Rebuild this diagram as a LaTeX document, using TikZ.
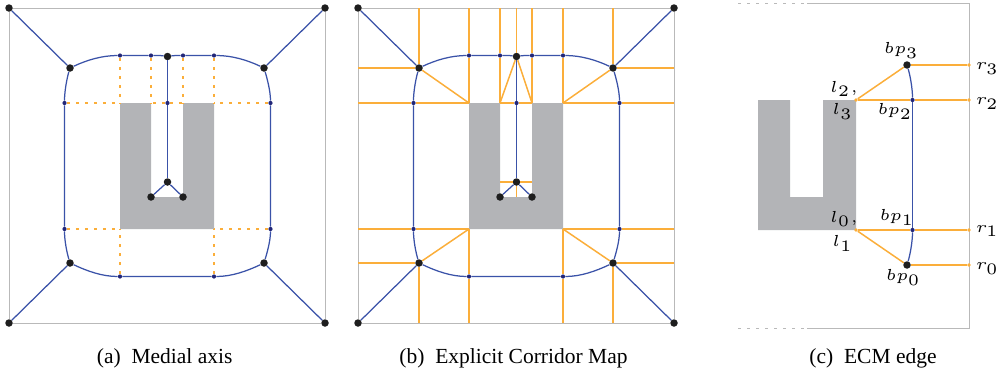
\documentclass[tikz,border=0pt]{standalone}
\usepackage[no-math]{fontspec}
\setmainfont{Liberation Serif}
\usetikzlibrary{positioning}
\definecolor{medialColor}{RGB}{58, 82, 168}
\definecolor{bendColor}{RGB}{34, 38, 120}
\definecolor{corridorColor}{RGB}{251, 174, 58}
\definecolor{wallColor}{RGB}{179, 180, 183}
\definecolor{frameColor}{RGB}{185, 185, 185}
\definecolor{dotColor}{RGB}{30, 30, 30}

% Mapa comum aos paineis (a) e (b)
\newcommand{\medialmap}{
    \coordinate (gtl) at (120,103);
    \coordinate (gtr) at (214,103);
    \coordinate (gbl) at (120,229);
    \coordinate (gbr) at (214,229);
    \coordinate (gnl) at (151,103);
    \coordinate (gnr) at (183,103);
    \coordinate (gdl) at (151,197);
    \coordinate (gdr) at (183,197);
    \fill [wall] (gtl) -- (gnl) -- (gdl) -- (gdr) -- (gnr) -- (gtr) -- (gbr) -- (gbl) -- cycle;

    % Vertices
    \node (tl) [junction] at (9,8) {};
    \node (tr) [junction] at (325,8) {};
    \node (bl) [junction] at (9,323) {};
    \node (br) [junction] at (325,323) {};
    \node (jtl) [junction] at (70,68) {};
    \node (jtr) [junction] at (264,68) {};
    \node (jbl) [junction] at (70,263) {};
    \node (jbr) [junction] at (264,263) {};
    \node (jtop) [junction] at (167.5,56.5) {};
    \node (jmid) [junction] at (167.5,182) {};
    \node (jdl) [junction] at (151,197) {};
    \node (jdr) [junction] at (183,197) {};

    % Pontos de curvatura
    \node (nt1) [bendpoint] at (120,55.5) {};
    \node (nt2) [bendpoint] at (151,55.5) {};
    \node (nt3) [bendpoint] at (183,55.5) {};
    \node (nt4) [bendpoint] at (214,55.5) {};
    \node (nb1) [bendpoint] at (120,276.5) {};
    \node (nb2) [bendpoint] at (214,276.5) {};
    \node (nl1) [bendpoint] at (64.5,103) {};
    \node (nl2) [bendpoint] at (64.5,229) {};
    \node (nr1) [bendpoint] at (270.5,103) {};
    \node (nr2) [bendpoint] at (270.5,229) {};
    \node (nm) [bendpoint] at (167.5,103) {};

    % Moldura
    \draw [boxline] (tl) -- (tr);
    \draw [boxline] (tr) -- (br);
    \draw [boxline] (br) -- (bl);
    \draw [boxline] (bl) -- (tl);

    % Eixo medial
    \draw [medial] (tl) -- (jtl);
    \draw [medial] (tr) -- (jtr);
    \draw [medial] (bl) -- (jbl);
    \draw [medial] (br) -- (jbr);
    \draw [medial] (jtl) .. controls +(17,-8) and +(-18,0) .. (nt1) -- (nt2) .. controls +(6,0) and +(-6,-1) .. (jtop);
    \draw [medial] (jtop) .. controls +(6,-1) and +(-6,0) .. (nt3) -- (nt4) .. controls +(18,0) and +(-17,-8) .. (jtr);
    \draw [medial] (jbl) .. controls +(17,8) and +(-18,0) .. (nb1) -- (nb2) .. controls +(18,0) and +(-17,8) .. (jbr);
    \draw [medial] (jtl) .. controls +(-3,10) and +(0,-12) .. (nl1) -- (nl2) .. controls +(0,12) and +(-3,-10) .. (jbl);
    \draw [medial] (jtr) .. controls +(3,10) and +(0,-12) .. (nr1) -- (nr2) .. controls +(0,12) and +(3,-10) .. (jbr);
    \draw [medial] (jtop) -- (nm);
    \draw [medial] (nm) -- (jmid);
    \draw [medial] (jmid) -- (jdl);
    \draw [medial] (jmid) -- (jdr);
}

\begin{document}
\begin{tikzpicture}[
    x=1pt, y=-1pt,
    wall/.style={fill=wallColor},
    boxline/.style={draw=frameColor, line width=1pt},
    medial/.style={draw=medialColor, line width=1.25pt},
    corridor/.style={draw=corridorColor, line width=1.5pt},
    dashedcorridor/.style={corridor, dash pattern=on 3.5pt off 5.5pt},
    junction/.style={circle, fill=dotColor, inner sep=0pt, minimum size=7.5pt},
    bendpoint/.style={circle, fill=bendColor, inner sep=0pt, minimum size=4.2pt},
    endpoint/.style={circle, fill=corridorColor, inner sep=0pt, minimum size=3.8pt},
    ecmlabel/.style={font=\tiny, scale=3.2, inner sep=0pt},
    caption/.style={font=\fontsize{21.5}{24}\selectfont, anchor=base}
]
    \useasboundingbox (0,0) rectangle (1008,375);

    % Painel (a)
    \begin{scope}[name prefix=a-]
        \medialmap
        \draw [dashedcorridor] (nt1) -- (gtl);
        \draw [dashedcorridor] (nt2) -- (gnl);
        \draw [dashedcorridor] (nt3) -- (gnr);
        \draw [dashedcorridor] (nt4) -- (gtr);
        \draw [dashedcorridor] (nl1) -- (gtl);
        \draw [dashedcorridor] (nm) -- (gnl);
        \draw [dashedcorridor] (nm) -- (gnr);
        \draw [dashedcorridor] (nr1) -- (gtr);
        \draw [dashedcorridor] (nl2) -- (gbl);
        \draw [dashedcorridor] (nr2) -- (gbr);
        \draw [dashedcorridor] (nb1) -- (gbl);
        \draw [dashedcorridor] (nb2) -- (gbr);
    \end{scope}

    % Painel (b)
    \begin{scope}[name prefix=b-, xshift=349pt]
        \medialmap
        \draw [corridor] (jtl) -- (jtl |- tl);
        \draw [corridor] (nt1) -- (nt1 |- tl);
        \draw [corridor] (nt2) -- (nt2 |- tl);
        \draw [corridor] (jtop) -- (jtop |- tl);
        \draw [corridor] (nt3) -- (nt3 |- tl);
        \draw [corridor] (nt4) -- (nt4 |- tl);
        \draw [corridor] (jtr) -- (jtr |- tl);
        \draw [corridor] (jtl) -- (jtl -| tl);
        \draw [corridor] (jtr) -- (jtr -| tr);
        \draw [corridor] (nl1) -- (nl1 -| tl);
        \draw [corridor] (nr1) -- (nr1 -| tr);
        \draw [corridor] (nl2) -- (nl2 -| tl);
        \draw [corridor] (nr2) -- (nr2 -| tr);
        \draw [corridor] (jbl) -- (jbl -| bl);
        \draw [corridor] (jbr) -- (jbr -| br);
        \draw [corridor] (jbl) -- (jbl |- bl);
        \draw [corridor] (nb1) -- (nb1 |- bl);
        \draw [corridor] (nb2) -- (nb2 |- bl);
        \draw [corridor] (jbr) -- (jbr |- bl);
        \draw [corridor] (nt1) -- (gtl);
        \draw [corridor] (nt2) -- (gnl);
        \draw [corridor] (nt3) -- (gnr);
        \draw [corridor] (nt4) -- (gtr);
        \draw [corridor] (nl1) -- (gtl);
        \draw [corridor] (nm) -- (gnl);
        \draw [corridor] (nm) -- (gnr);
        \draw [corridor] (nr1) -- (gtr);
        \draw [corridor] (nl2) -- (gbl);
        \draw [corridor] (nr2) -- (gbr);
        \draw [corridor] (nb1) -- (gbl);
        \draw [corridor] (nb2) -- (gbr);
        \draw [corridor] (jtl) -- (gtl);
        \draw [corridor] (jtr) -- (gtr);
        \draw [corridor] (jbl) -- (gbl);
        \draw [corridor] (jbr) -- (gbr);
        \draw [corridor] (jtop) -- (gnl);
        \draw [corridor] (jtop) -- (gnr);
        \draw [corridor] (jmid) -- (jmid -| gnl);
        \draw [corridor] (jmid) -- (jmid -| gnr);
        \draw [corridor] (jmid) -- (jmid |- jdl);
    \end{scope}

    % Painel (c)
    \fill [wall] (758,100) -- (790,100) -- (790,197) -- (823,197) -- (823,100) -- (856,100) -- (856,230) -- (758,230) -- cycle;
    \coordinate (ftl) at (738,3);
    \coordinate (fts) at (807,3);
    \coordinate (ftr) at (969,3);
    \coordinate (fbr) at (969,328);
    \coordinate (fbs) at (807,328);
    \coordinate (fbl) at (738,328);
    \draw [boxline] (fts) -- (ftr) -- (fbr) -- (fbs);
    \draw [boxline, dash pattern=on 3pt off 6pt] (ftl) -- (fts);
    \draw [boxline, dash pattern=on 3pt off 6pt] (fbl) -- (fbs);

    \node (bp3) [junction] at (907,65) {};
    \node (bp2) [bendpoint] at (912.5,100) {};
    \node (bp1) [bendpoint] at (912.5,230) {};
    \node (bp0) [junction] at (907,265) {};
    \node (l23) [endpoint] at (856,100) {};
    \node (l01) [endpoint] at (856,230) {};
    \node (r3) [endpoint] at (969,65) {};
    \node (r2) [endpoint] at (969,100) {};
    \node (r1) [endpoint] at (969,230) {};
    \node (r0) [endpoint] at (969,265) {};

    \draw [corridor] (bp3) -- (r3);
    \draw [corridor] (l23) -- (bp2);
    \draw [corridor] (bp2) -- (r2);
    \draw [corridor] (l01) -- (bp1);
    \draw [corridor] (bp1) -- (r1);
    \draw [corridor] (bp0) -- (r0);
    \draw [corridor] (l23) -- (bp3);
    \draw [corridor] (l01) -- (bp0);
    \draw [medial] (bp3) .. controls +(3,10) and +(0,-12) .. (bp2);
    \draw [medial] (bp2) -- (bp1);
    \draw [medial] (bp1) .. controls +(0,12) and +(3,-10) .. (bp0);

    % Rotulos
    \node (lbp3) [ecmlabel, above left=3pt and -15pt of bp3] {$bp_3$};
    \node (lbp2) [ecmlabel, below left=1pt and -2pt of bp2] {$bp_2$};
    \node (lbp1) [ecmlabel, above left=2pt and -4pt of bp1] {$bp_1$};
    \node (lbp0) [ecmlabel, below left=1pt and -17pt of bp0] {$bp_0$};
    \node (ll2) [ecmlabel, above left=1pt and -4pt of l23] {$l_2,$};
    \node (ll3) [ecmlabel, below left=1pt and 1pt of l23] {$l_3$};
    \node (ll0) [ecmlabel, above left=1pt and -4pt of l01] {$l_0,$};
    \node (ll1) [ecmlabel, below left=3pt and 1pt of l01] {$l_1$};
    \node (lr3) [ecmlabel, right=4pt of r3, yshift=-1.2pt] {$r_3$};
    \node (lr2) [ecmlabel, right=4pt of r2, yshift=-1.2pt] {$r_2$};
    \node (lr1) [ecmlabel, right=4pt of r1, yshift=-0.3pt] {$r_1$};
    \node (lr0) [ecmlabel, right=4pt of r0, yshift=-1pt] {$r_0$};

    % Legendas
    \node (capa) [caption] at (164.7,363) {(a)\ \ Medial axis};
    \node (capb) [caption] at (513.5,363) {(b)\ \ Explicit Corridor Map};
    \node (capc) [caption] at (873,363) {(c)\ \ ECM edge};
\end{tikzpicture}
\end{document}
